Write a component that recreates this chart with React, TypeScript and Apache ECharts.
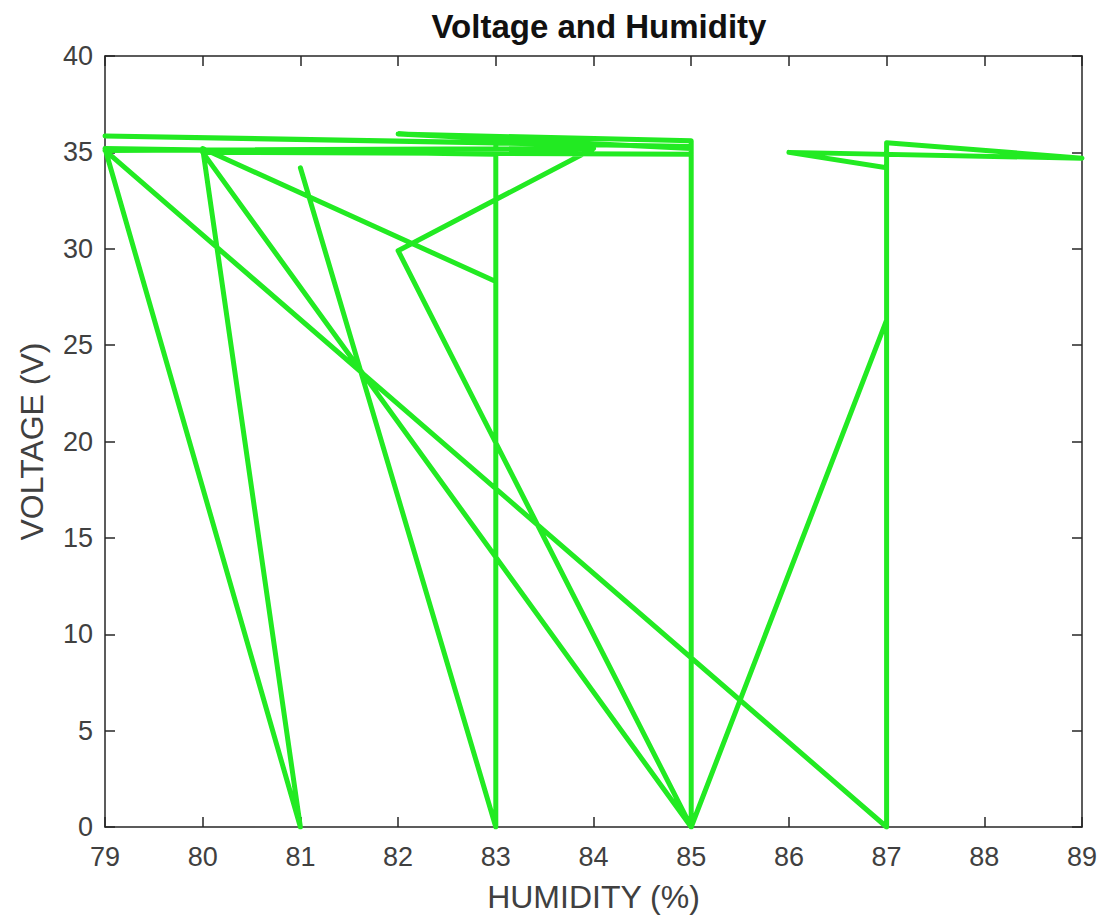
import React, { useEffect, useRef } from "react";
import * as echarts from "echarts";

const humidity = [81, 83, 83, 79, 81, 80, 83, 83, 79, 85, 85, 80, 85, 85, 82, 85, 85, 82, 84, 79, 87, 87, 89, 86, 87, 87, 85];
const voltage = [34.2, 0, 34.9, 35.2, 0, 35.2, 28.3, 35.5, 35.85, 35.3, 0, 35.0, 34.9, 35.6, 35.95, 35.2, 0, 29.9, 35.2, 35.1, 0, 35.5, 34.7, 35.0, 34.2, 26.3, 0];
const xTicks = [79, 80, 81, 82, 83, 84, 85, 86, 87, 88, 89];
const yTicks = [0, 5, 10, 15, 20, 25, 30, 35, 40];

const FONT = "'Liberation Sans', Arial, sans-serif";
const AXIS_COLOR = "#262626";
const LABEL_COLOR = "#404040";

export default function App() {
  const ref = useRef<HTMLDivElement>(null);
  useEffect(() => {
    if (!ref.current) return;
    const chart = echarts.init(ref.current, null, { renderer: "svg" });
    const data = humidity.map((h, i) => [h, voltage[i]]);
    const axisLine = { show: true, onZero: false, lineStyle: { color: AXIS_COLOR, width: 1.5 } };
    const tick = { show: true, inside: true, length: 10, lineStyle: { color: AXIS_COLOR, width: 1.5 } };
    chart.setOption({
      animation: false,
      backgroundColor: "#ffffff",
      title: {
        text: "Voltage and Humidity",
        left: 594,
        top: 5,
        textAlign: "center",
        textStyle: { fontFamily: FONT, fontWeight: "bold", fontSize: 33, color: "#111" },
      },
      grid: { left: 105, top: 56, width: 977, height: 771, containLabel: false },
      xAxis: [
        {
          type: "value",
          min: xTicks[0],
          max: xTicks[xTicks.length - 1],
          interval: 1,
          position: "bottom",
          name: "HUMIDITY (%)",
          nameLocation: "middle",
          nameGap: 54,
          nameTextStyle: { fontFamily: FONT, fontSize: 32, color: LABEL_COLOR },
          axisLine,
          axisTick: tick,
          splitLine: { show: false },
          axisLabel: { fontFamily: FONT, fontSize: 27, color: LABEL_COLOR, margin: 16 },
        },
        {
          type: "value",
          min: xTicks[0],
          max: xTicks[xTicks.length - 1],
          interval: 1,
          position: "top",
          axisLine,
          axisTick: tick,
          splitLine: { show: false },
          axisLabel: { show: false },
        },
      ],
      yAxis: [
        {
          type: "value",
          min: yTicks[0],
          max: yTicks[yTicks.length - 1],
          interval: 5,
          position: "left",
          name: "VOLTAGE (V)",
          nameLocation: "middle",
          nameGap: 57,
          nameTextStyle: { fontFamily: FONT, fontSize: 32, color: LABEL_COLOR },
          axisLine,
          axisTick: tick,
          splitLine: { show: false },
          axisLabel: { fontFamily: FONT, fontSize: 27, color: LABEL_COLOR, margin: 12 },
        },
        {
          type: "value",
          min: yTicks[0],
          max: yTicks[yTicks.length - 1],
          interval: 5,
          position: "right",
          axisLine,
          axisTick: tick,
          splitLine: { show: false },
          axisLabel: { show: false },
        },
      ],
      series: [
        {
          type: "line",
          xAxisIndex: 0,
          yAxisIndex: 0,
          data,
          showSymbol: false,
          symbol: "none",
          lineStyle: { color: "#22ea22", width: 5, join: "round", cap: "round" },
        },
      ],
    });
    return () => chart.dispose();
  }, []);
  return (
    <div
      ref={ref}
      style={{ position: "fixed", left: 0, top: 0, width: 1110, height: 924, background: "#fff" }}
    />
  );
}
